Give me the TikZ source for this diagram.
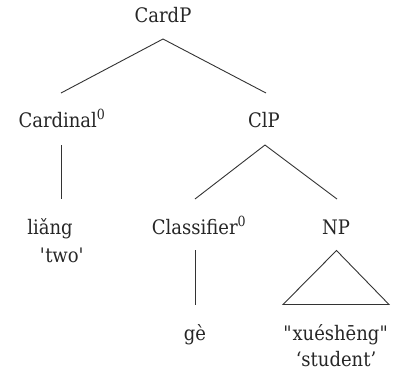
\documentclass[tikz,border=0pt]{standalone}
\usepackage{fontspec}
\setmainfont{DejaVu Serif}[FakeStretch=0.9]
\begin{document}
\begin{tikzpicture}[x=1pt,y=1pt,
  lbl/.style={anchor=base,inner sep=0pt,text=black!85,font=\fontsize{20}{24}\selectfont},
  branch/.style={draw=black!80,line width=0.9pt}]
\useasboundingbox (0,0) rectangle (393,-373);
% labels
\node[lbl] (cardp) at (163,-22.5) {CardP};
\node[lbl] (card)  at (62,-127.5) {Cardinal\textsuperscript{0}};
\node[lbl] (clp)   at (264,-127.5) {ClP};
\node[lbl] (liang) at (50,-234) {liǎng};
\node[lbl] (two)   at (62,-262) {\textquotesingle two\textquotesingle};
\node[lbl] (cl)    at (199,-234) {Classifier\textsuperscript{0}};
\node[lbl] (np)    at (336,-234) {NP};
\node[lbl] (ge)    at (195,-340) {gè};
\node[lbl] (xs)    at (336,-340) {\textquotedbl xuéshēng\textquotedbl};
\node[lbl] (stu)   at (336,-366) {‘student’};
% branch end points
\coordinate (cardp-b) at (163,-39);
\coordinate (card-t)  at (61,-93);
\coordinate (clp-t)   at (266,-93);
\coordinate (card-b)  at (61,-145);
\coordinate (liang-t) at (61,-199);
\coordinate (clp-b)   at (265,-145);
\coordinate (cl-t)    at (195,-199);
\coordinate (np-t)    at (337,-199);
\coordinate (cl-b)    at (195,-250);
\coordinate (ge-t)    at (195,-305);
\coordinate (np-b)    at (336.5,-250.5);
\coordinate (tri-l)   at (283,-304.5);
\coordinate (tri-r)   at (389,-304.5);
% branches
\draw[branch] (card-t) -- (cardp-b) -- (clp-t);
\draw[branch] (card-b) -- (liang-t);
\draw[branch] (cl-t) -- (clp-b) -- (np-t);
\draw[branch] (cl-b) -- (ge-t);
\draw[branch,line join=miter] (np-b) -- (tri-l) -- (tri-r) -- cycle;
\end{tikzpicture}
\end{document}
